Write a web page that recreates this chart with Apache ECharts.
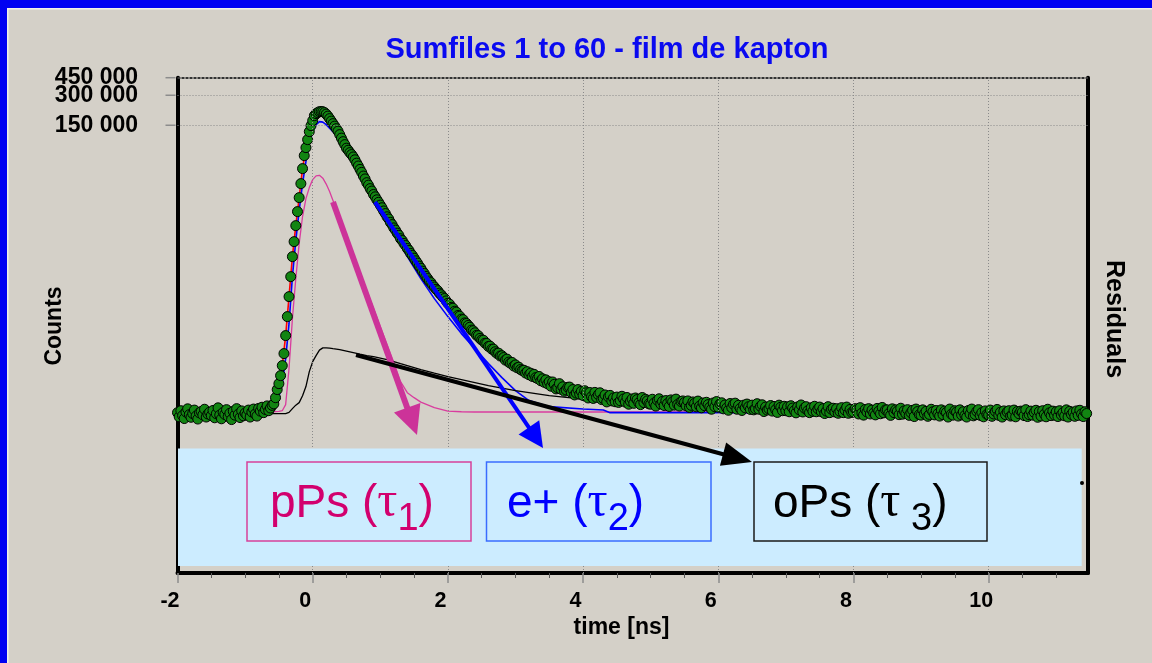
<!DOCTYPE html>
<html>
<head>
<meta charset="utf-8">
<script src="https://cdn.jsdelivr.net/npm/echarts@6/dist/echarts.min.js"></script>
<style>
  html, body { margin: 0; padding: 0; background: #d4d0c8; }
  #chart { width: 1152px; height: 663px; }
</style>
</head>
<body>
<div id="chart"></div>
<script>
// Lifetime spectrum: counts per channel, channel width 0.025 ns starting at -2 ns
const CHANNEL_START_NS = -2.0;
const CHANNEL_WIDTH_NS = 0.025;
const spectrumCounts = [
  196, 178, 205, 183, 171, 199, 214, 187, 176, 192, 208, 181, 169, 195, 201, 186, 212, 177, 190, 198,
  183, 206, 174, 191, 219, 185, 170, 197, 188, 210, 179, 193, 167, 202, 185, 215, 189, 175, 204, 182,
  194, 186, 208, 177, 199, 213, 190, 181, 216, 203, 222, 196, 211, 229, 205, 218, 232, 240, 277, 334,
  383, 461, 581, 767, 1162, 1802, 2860, 4540, 7207, 10190, 14750, 20390, 28170, 38940, 55070, 74340, 89450, 107600, 129500, 148700,
  166900, 187300, 196200, 200800, 205400, 205900, 205100, 200800, 194000, 185200, 174800, 165000, 155700, 147000, 138700, 130900, 120800, 111400, 102700, 95850,
  88300, 84200, 79700, 76200, 72100, 67500, 62500, 58500, 54100, 50500, 46400, 43400, 39800, 37600, 34700, 32800, 30300, 28700, 26800, 25300,
  23700, 22300, 20700, 19500, 18100, 17200, 15900, 15100, 14000, 13300, 12400, 11800, 10900, 10450, 9780, 9310, 8700, 8300, 7760, 7400,
  6960, 6540, 6200, 5790, 5510, 5150, 4890, 4570, 4340, 4100, 3950, 3720, 3570, 3390, 3280, 3100, 2990, 2840, 2740, 2590,
  2450, 2400, 2230, 2190, 2040, 2000, 1850, 1820, 1700, 1680, 1560, 1540, 1470, 1410, 1320, 1300, 1240, 1170, 1160, 1090,
  1050, 1045, 975, 970, 905, 910, 850, 850, 800, 770, 775, 725, 730, 700, 660, 675, 630, 615, 625, 575,
  590, 552, 560, 531, 518, 522, 489, 505, 470, 488, 452, 475, 440, 431, 452, 409, 428, 395, 418, 381,
  400, 361, 398, 377, 339, 349, 383, 336, 356, 321, 331, 352, 354, 312, 334, 295, 308, 334, 300, 321,
  291, 325, 310, 275, 312, 283, 272, 313, 279, 297, 310, 265, 272, 295, 251, 282, 292, 257, 275, 252,
  281, 248, 258, 286, 269, 250, 278, 238, 255, 269, 243, 275, 265, 246, 236, 278, 247, 267, 257, 240,
  238, 267, 244, 228, 261, 270, 239, 254, 231, 259, 242, 226, 263, 252, 233, 268, 237, 228, 253, 257,
  248, 229, 257, 221, 232, 251, 243, 224, 256, 228, 219, 245, 230, 249, 236, 222, 212, 245, 225, 253,
  222, 240, 246, 214, 234, 218, 207, 242, 220, 238, 244, 212, 232, 216, 206, 233, 219, 239, 225, 211,
  233, 209, 214, 241, 212, 227, 235, 201, 223, 208, 214, 231, 203, 226, 210, 197, 233, 222, 205, 227,
  205, 224, 200, 230, 218, 205, 195, 224, 209, 234, 199, 218, 225, 205, 196, 219, 202, 227, 200, 214,
  223, 200, 215, 192, 203, 225, 196, 212, 217, 199, 215, 193, 202, 220, 196, 208, 223, 193, 211, 197,
  199, 215, 208, 190, 220, 194, 185, 211, 199, 215, 190, 208, 194, 186, 216, 203, 191, 221, 195, 209,
  209, 192, 184, 214, 196, 209, 203, 187, 217, 189, 204, 192, 210, 184, 196, 207, 179, 213, 201, 187,
  185, 209, 191, 202, 180, 188, 212, 200, 186, 206, 191, 181, 209, 187, 203, 197, 177, 213, 189, 185,
  205, 199, 181, 209, 186, 200, 184, 177, 206, 190, 213, 182, 188, 202, 210, 184, 196, 178, 204, 188,
  186, 208, 180, 190, 202, 211, 184, 198, 177, 204, 187, 199, 205, 181, 185, 208, 178, 201, 191, 203,
  199, 183, 210, 179, 187, 203, 185, 197, 207, 176, 201, 181, 205, 189, 178, 212, 195, 183, 203, 185,
  200, 179, 205, 186, 196, 182, 209, 177, 202, 188, 198, 180, 204, 184, 207, 190, 179, 200, 192
];

// Fitted curves (each includes the background), sampled at these times
const fitTimesNs = [-2.0, -0.7, -0.6, -0.55, -0.5, -0.45, -0.4, -0.35, -0.3, -0.25, -0.2, -0.15, -0.1, -0.05,
  0, 0.05, 0.1, 0.15, 0.2, 0.25, 0.3, 0.4, 0.5, 0.6, 0.7, 0.8, 0.9, 1.0, 1.1, 1.2, 1.3, 1.4, 1.5, 1.6,
  1.8, 2.0, 2.2, 2.4, 2.6, 2.8, 3.0, 3.2, 3.5, 4.0, 4.3, 4.4, 5.0, 6.0, 7.0, 8.0, 9.0, 10.0, 11.45];
const fitTotal = [189, 196, 226, 277, 383, 581, 1162, 2860, 7207, 14750, 28170, 55070, 89450, 129500,
  166900, 196200, 205400, 205400, 194000, 174800, 155700, 120800, 88300, 72300, 54300, 40000, 30500, 23700, 18200, 14100, 11000, 8750, 6960, 5490,
  3560, 2480, 1720, 1234, 922, 717, 577, 483, 385, 306, 284, 278, 253, 231, 216, 205, 197, 194, 192];
const fitPPs = [199, 199, 200, 201, 202, 205, 236, 542, 1720, 4335, 9735, 18200, 27500, 35500,
  42700, 46500, 47200, 44200, 38500, 32400, 26300, 17340, 11440, 7550, 4980, 3285, 2170, 1430, 944, 623, 401, 311, 277, 250,
  220, 203, 200, 199, 199, 199, 199, 199, 199, 199, 199, 199, 199, 199, 199, 199, 199, 199, 199];
const fitEPlus = [205, 208, 215, 236, 284, 383, 683, 1530, 4540, 10430, 20900, 38940, 64700, 98100,
  129500, 152100, 163100, 161200, 152100, 140400, 129500, 107600, 85400, 66200, 50200, 38000, 28800, 20900, 16000, 12260, 9400, 7207, 5590, 4335,
  2730, 1802, 1217, 860, 608, 440, 326, 259, 225, 213, 208, 196, 196, 196, 196, 196, 196, 196, 196];
const fitOPs = [192, 192, 192, 192, 192, 192, 192, 197, 215, 233, 247, 290, 358, 506,
  637, 732, 831, 875, 875, 870, 860, 841, 812, 784, 757, 732, 715, 691, 667, 637, 608, 581, 555, 530,
  488, 450, 420, 392, 366, 345, 326, 311, 290, 268, 259, 256, 241, 223, 210, 203, 198, 194, 192];

// Axis ticks
const xMajorTicks = [-2, 0, 2, 4, 6, 8, 10];
const xMinorTicks = [-1.5, -1, -0.5, 0.5, 1, 1.5, 2.5, 3, 3.5, 4.5, 5, 5.5, 6.5, 7, 7.5, 8.5, 9, 9.5, 10.5, 11];
const xGridValues = [0, 2, 4, 6, 8, 10];
const yTickValues = [150000, 300000, 450000];
const yTickLabels = ['150 000', '300 000', '450 000'];

const FONT = '"Liberation Sans", Arial, sans-serif';
const SERIF = '"Liberation Serif", "Times New Roman", serif';
const GRID = { left: 177.5, top: 77.7, width: 910.5, height: 495.3 };

const pairs = (times, values) => times.map((t, i) => [t, values[i]]);
const spectrum = spectrumCounts.map((c, i) => [+(CHANNEL_START_NS + i * CHANNEL_WIDTH_NS).toFixed(3), c]);

const gridLineStyle = { color: '#8a8a8a', width: 1, type: [1, 2] };

const option = {
  animation: false,
  backgroundColor: '#d4d0c8',
  grid: { left: GRID.left, top: GRID.top, width: GRID.width, height: GRID.height, show: false },
  xAxis: [
    {
      type: 'value', min: -2, max: 11.47, interval: 2, position: 'bottom',
      axisLine: { show: true, onZero: false, lineStyle: { color: '#000', width: 4 } },
      axisTick: { show: true, customValues: xMajorTicks, length: 10, lineStyle: { color: '#8c8c8c', width: 1.5 } },
      axisLabel: {
        customValues: xMajorTicks, formatter: v => String(v), margin: 17, padding: [0, 15, 0, 0],
        color: '#000', fontWeight: 'bold', fontSize: 21.5, fontFamily: FONT
      },
      splitLine: { show: false }, minorTick: { show: false }
    },
    {
      type: 'value', min: -2, max: 11.47, position: 'bottom',
      axisLine: { show: false, onZero: false },
      axisTick: { show: true, customValues: xMinorTicks, length: 5, lineStyle: { color: '#5a5a5a', width: 1 } },
      axisLabel: { show: false }, splitLine: { show: false }
    }
  ],
  yAxis: [
    {
      type: 'log', logBase: 10, min: 4.82, max: 450000,
      axisLine: { show: true, onZero: false, lineStyle: { color: '#000', width: 4 } },
      axisTick: { show: false }, axisLabel: { show: false }, splitLine: { show: false }, minorTick: { show: false }
    },
    {
      type: 'value', min: 0, max: 1, position: 'right',
      axisLine: { show: true, onZero: false, lineStyle: { color: '#000', width: 4 } },
      axisTick: { show: false }, axisLabel: { show: false }, splitLine: { show: false }
    }
  ],
  series: [
    {
      name: 'fit', type: 'line', data: pairs(fitTimesNs, fitTotal), symbol: 'none', z: 2, silent: true,
      lineStyle: { color: '#ff0000', width: 1.6 },
      markLine: {
        silent: true, symbol: 'none', label: { show: false }, lineStyle: gridLineStyle,
        data: xGridValues.map(v => ({ xAxis: v }))
          .concat([{ yAxis: 150000 }, { yAxis: 300000 }])
          .concat([{ yAxis: 450000, lineStyle: { color: '#333', width: 2, type: [3, 1] } }])
      }
    },
    { name: 'pPs', type: 'line', data: pairs(fitTimesNs, fitPPs), symbol: 'none', z: 2, silent: true,
      lineStyle: { color: '#d93c9e', width: 1.3 } },
    { name: 'e+', type: 'line', data: pairs(fitTimesNs, fitEPlus), symbol: 'none', z: 2, silent: true,
      lineStyle: { color: '#0000ff', width: 1.6 } },
    { name: 'oPs', type: 'line', data: pairs(fitTimesNs, fitOPs), symbol: 'none', z: 2, silent: true,
      lineStyle: { color: '#000000', width: 1.3 } },
    {
      name: 'counts', type: 'scatter', data: spectrum, symbol: 'circle', symbolSize: 10, z: 3, silent: true,
      itemStyle: { color: '#128512', borderColor: '#000', borderWidth: 1, opacity: 1 }
    }
  ]
};

const chart = echarts.init(document.getElementById('chart'), null, { renderer: 'canvas' });
chart.setOption(option);

function arrow(x1, y1, x2, y2, headLen, headHalf, color, width) {
  const dx = x2 - x1, dy = y2 - y1, len = Math.hypot(dx, dy);
  const ux = dx / len, uy = dy / len;
  const bx = x2 - ux * headLen, by = y2 - uy * headLen;
  return [
    { type: 'line', z: 120, shape: { x1: x1, y1: y1, x2: bx + ux * 2, y2: by + uy * 2 },
      style: { stroke: color, lineWidth: width } },
    { type: 'polygon', z: 121,
      shape: { points: [[x2, y2], [bx - uy * headHalf, by + ux * headHalf], [bx + uy * headHalf, by - ux * headHalf]] },
      style: { fill: color } }
  ];
}

// Text pieces of a lifetime label, laid out along a common baseline with a lowered subscript
const measureCtx = document.createElement('canvas').getContext('2d');
function textWidth(font, s) { measureCtx.font = font; return measureCtx.measureText(s).width; }

function lifetimeLabel(x, label, sub, color) {
  const BASE = 520, SUB_BASE = 533;
  const mainFont = '46px ' + FONT, tauFont = '50px ' + SERIF, subFont = '38px ' + FONT;
  const pieces = [
    { s: label + ' (', font: mainFont, y: BASE - 0.3465 * 46 },
    { s: '\u03c4', font: tauFont, y: BASE - 0.3375 * 50 },
    { s: sub, font: subFont, y: SUB_BASE - 0.3465 * 38 },
    { s: ')', font: mainFont, y: BASE - 0.3465 * 46 }
  ];
  const out = [];
  let cx = x;
  pieces.forEach(p => {
    out.push({ type: 'text', x: cx, y: p.y, z: 80,
      style: { text: p.s, align: 'left', verticalAlign: 'middle', fill: color, font: p.font } });
    cx += textWidth(p.font, p.s);
  });
  return out;
}

const yPix = v => chart.convertToPixel({ yAxisIndex: 0 }, v);

const graphics = [
  // window frame
  { type: 'rect', z: 200, shape: { x: 0, y: 0, width: 1152, height: 8 }, style: { fill: '#0000f2' } },
  { type: 'rect', z: 200, shape: { x: 0, y: 0, width: 7, height: 663 }, style: { fill: '#0000f2' } },
  { type: 'rect', z: 200, shape: { x: 7, y: 8, width: 1145, height: 1.5 }, style: { fill: '#f1efea' } },
  { type: 'rect', z: 200, shape: { x: 7, y: 8, width: 1.5, height: 655 }, style: { fill: '#f1efea' } },
  // title and axis names
  { type: 'text', x: 607, y: 50, z: 90,
    style: { text: 'Sumfiles 1 to 60 - film de kapton', align: 'center', verticalAlign: 'middle',
      fill: '#0a0af0', font: 'bold 29px ' + FONT } },
  { type: 'text', x: 55, y: 326, rotation: Math.PI / 2, z: 90,
    style: { text: 'Counts', align: 'center', verticalAlign: 'middle', fill: '#000', font: 'bold 23px ' + FONT } },
  { type: 'text', x: 1114, y: 319, rotation: -Math.PI / 2, z: 90,
    style: { text: 'Residuals', align: 'center', verticalAlign: 'middle', fill: '#000', font: 'bold 25px ' + FONT } },
  { type: 'text', x: 621.5, y: 628, z: 90,
    style: { text: 'time [ns]', align: 'center', verticalAlign: 'middle', fill: '#000', font: 'bold 23px ' + FONT } },
  // residuals panel area
  { type: 'rect', z: 50, shape: { x: 178, y: 448.5, width: 903.7, height: 117.5 }, style: { fill: '#ccecff' } },
  { type: 'circle', z: 51, shape: { cx: 1082, cy: 483, r: 2 }, style: { fill: '#000' } },
  // component boxes
  { type: 'rect', z: 70, shape: { x: 247, y: 462, width: 224, height: 79 }, style: { fill: 'none', stroke: '#d6409a', lineWidth: 1.5 } },
  { type: 'rect', z: 70, shape: { x: 486.5, y: 462, width: 224.5, height: 79 }, style: { fill: 'none', stroke: '#3a6cff', lineWidth: 1.5 } },
  { type: 'rect', z: 70, shape: { x: 754, y: 462, width: 233, height: 79 }, style: { fill: 'none', stroke: '#1a1a1a', lineWidth: 1.5 } }
]
  .concat(lifetimeLabel(270, 'pPs', '1', '#d2006e'))
  .concat(lifetimeLabel(507, 'e+', '2', '#0000ff'))
  .concat(lifetimeLabel(773, 'oPs', ' 3', '#000000'))
  .concat(arrow(333, 202, 417, 435, 29, 14, '#cc3399', 6))
  .concat(arrow(375, 202, 543, 448, 25, 12.5, '#0000ff', 4))
  .concat(arrow(356, 355, 752, 462, 30, 12, '#000000', 4));

// y-axis ticks and labels placed through the log scale
yTickValues.forEach((v, i) => {
  const y = yPix(v);
  graphics.push({ type: 'line', z: 40, shape: { x1: GRID.left - 12, y1: y, x2: GRID.left - 2, y2: y },
    style: { stroke: '#8c8c8c', lineWidth: 1.5 } });
  graphics.push({ type: 'text', x: 138, y: y, z: 40,
    style: { text: yTickLabels[i], align: 'right', verticalAlign: 'middle', fill: '#000', font: 'bold 23px ' + FONT } });
});

chart.setOption({ graphic: graphics });
</script>
</body>
</html>
